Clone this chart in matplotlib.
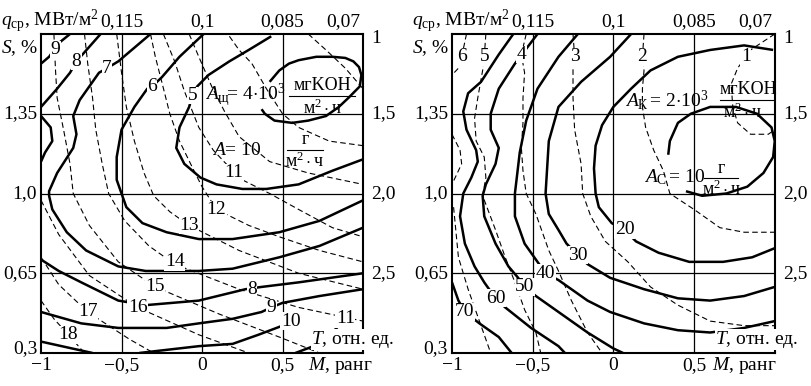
import numpy as np
import matplotlib.pyplot as plt

plt.rcParams['font.family'] = ['Liberation Serif', 'DejaVu Serif']
plt.rcParams['mathtext.fontset'] = 'custom'
plt.rcParams['mathtext.rm'] = 'Liberation Serif'
plt.rcParams['mathtext.it'] = 'Liberation Serif:italic'

# ========================
# DATA (M, S)
# ========================
# left panel, solid lines (alkali corrosion)
l_sol_9a = [(-1.0, 1.57), (-0.95, 1.60), (-0.89, 1.66), (-0.82, 1.70)]
l_sol_8a = [(-0.63, 1.70), (-0.73, 1.62), (-0.78, 1.58), (-0.82, 1.53), (-0.90, 1.46), (-1.0, 1.38)]
l_sol_bump = [(-1.0, 1.34), (-0.94, 1.29), (-0.93, 1.23), (-0.975, 1.18), (-1.0, 1.14)]
l_sol_7 = [(-0.32, 1.70), (-0.52, 1.58), (-0.59, 1.55), (-0.64, 1.53), (-0.76, 1.41), (-0.80, 1.34),
           (-0.78, 1.26), (-0.80, 1.20), (-0.90, 1.09), (-0.95, 1.01), (-0.95, 0.99), (-0.93, 0.93),
           (-0.84, 0.83), (-0.72, 0.75), (-0.52, 0.68), (-0.35, 0.66), (-0.02, 0.66), (0.19, 0.67),
           (0.48, 0.72), (0.73, 0.77), (1.0, 0.85)]
l_sol_6 = [(0.01, 1.70), (-0.14, 1.60), (-0.25, 1.51), (-0.31, 1.47), (-0.34, 1.46), (-0.42, 1.38),
           (-0.50, 1.28), (-0.53, 1.16), (-0.53, 1.06), (-0.50, 1.0), (-0.47, 0.94), (-0.37, 0.87),
           (-0.22, 0.83), (-0.02, 0.80), (0.19, 0.80), (0.48, 0.83), (0.73, 0.88), (1.0, 0.97)]
l_sol_5 = [(0.43, 1.69), (0.29, 1.63), (0.17, 1.58), (0.04, 1.52), (-0.03, 1.47), (-0.06, 1.43),
           (-0.08, 1.38), (-0.14, 1.29), (-0.16, 1.20), (-0.11, 1.13), (-0.01, 1.07), (0.09, 1.04),
           (0.25, 1.02), (0.40, 1.02), (0.60, 1.04), (0.81, 1.10), (1.0, 1.15)]
l_sol_4 = [(0.42, 1.49), (0.48, 1.54), (0.54, 1.57), (0.60, 1.585), (0.71, 1.60), (0.81, 1.60),
           (0.89, 1.595), (0.94, 1.58), (0.975, 1.555), (0.99, 1.52), (0.98, 1.47), (0.91, 1.42),
           (0.85, 1.38), (0.77, 1.34), (0.66, 1.32), (0.56, 1.31), (0.45, 1.32), (0.39, 1.35),
           (0.37, 1.37)]
l_sol_8b = [(-1.0, 0.71), (-0.89, 0.66), (-0.75, 0.61), (-0.52, 0.53), (-0.35, 0.51), (-0.02, 0.53),
            (0.27, 0.58), (0.37, 0.59), (0.60, 0.61), (1.0, 0.65)]
l_sol_9b = [(-1.0, 0.48), (-0.75, 0.43), (-0.52, 0.41), (-0.22, 0.41), (-0.02, 0.43), (0.19, 0.45),
            (0.37, 0.48), (0.43, 0.50), (0.50, 0.52), (0.73, 0.55), (1.0, 0.58)]
l_sol_10a = [(-1.0, 0.35), (-0.68, 0.30)]
l_sol_10b = [(-0.39, 0.30), (-0.02, 0.33), (0.19, 0.34), (0.35, 0.38), (0.50, 0.42), (0.55, 0.44)]
l_sol_11b = [(0.58, 0.30), (0.73, 0.34), (0.81, 0.39), (0.89, 0.45)]

# left panel, dashed lines (mass loss)
l_dash_1 = [(0.66, 1.70), (0.77, 1.63), (0.89, 1.55), (1.0, 1.46)]
l_dash_2 = [(0.17, 1.69), (0.23, 1.63), (0.31, 1.57), (0.40, 1.46), (0.50, 1.35), (0.60, 1.29),
            (0.79, 1.23), (1.0, 1.21)]
l_dash_3 = [(-0.08, 1.70), (-0.02, 1.60), (0.06, 1.47), (0.14, 1.36), (0.23, 1.25), (0.42, 1.14),
            (0.66, 1.09), (1.0, 1.04)]
l_dash_4 = [(-0.24, 1.70), (-0.17, 1.58), (-0.11, 1.45), (-0.02, 1.29), (0.07, 1.19), (0.15, 1.13),
            (0.20, 1.10), (0.25, 1.06), (0.42, 1.0), (0.60, 0.93), (0.81, 0.85), (1.0, 0.81)]
l_dash_5 = [(-0.32, 1.70), (-0.29, 1.60), (-0.25, 1.49), (-0.20, 1.35), (-0.14, 1.23), (-0.05, 1.10),
            (0.0, 1.03), (0.09, 0.93), (0.29, 0.86), (0.48, 0.81), (0.73, 0.75), (1.0, 0.70)]
l_dash_6 = [(-0.53, 1.70), (-0.50, 1.53), (-0.47, 1.38), (-0.42, 1.23), (-0.36, 1.09), (-0.30, 0.99),
            (-0.20, 0.92), (-0.08, 0.86), (0.23, 0.75), (0.60, 0.65), (1.0, 0.58)]
l_dash_7 = [(-0.73, 1.70), (-0.71, 1.57), (-0.68, 1.42), (-0.66, 1.28), (-0.62, 1.13), (-0.58, 1.0),
            (-0.48, 0.88), (-0.33, 0.77), (-0.17, 0.69), (0.23, 0.58), (0.60, 0.50), (1.0, 0.44)]
l_dash_8 = [(-0.92, 1.70), (-0.91, 1.54), (-0.90, 1.42), (-0.86, 1.28), (-0.82, 1.13), (-0.80, 1.0),
            (-0.70, 0.86), (-0.52, 0.70), (-0.29, 0.59), (0.11, 0.47), (0.48, 0.37), (0.73, 0.30)]
l_dash_9 = [(-1.0, 0.97), (-0.89, 0.82), (-0.70, 0.64), (-0.40, 0.50), (-0.02, 0.38), (0.29, 0.30)]
l_dash_10 = [(-1.0, 0.72), (-0.89, 0.60), (-0.71, 0.48), (-0.45, 0.36), (-0.30, 0.30)]
l_dash_11 = [(-1.0, 0.53), (-0.92, 0.45), (-0.83, 0.38), (-0.73, 0.30)]

l_labels = ["9", "8", "7", "6", "5", "11", "12", "13", "14", "15", "16", "17", "18", "8", "9", "10", "11"]
l_label_pos = [(-0.91, 1.63), (-0.78, 1.58), (-0.59, 1.55), (-0.31, 1.47), (-0.06, 1.43),
               (0.20, 1.09), (0.09, 0.93), (-0.08, 0.86), (-0.17, 0.70), (-0.29, 0.59),
               (-0.40, 0.50), (-0.71, 0.48), (-0.83, 0.38), (0.31, 0.58), (0.43, 0.50),
               (0.55, 0.44), (0.89, 0.45)]

# right panel, solid lines (steel loss)
r_sol_10 = [(0.34, 1.17), (0.35, 1.23), (0.40, 1.31), (0.48, 1.35), (0.60, 1.38), (0.76, 1.38),
            (0.89, 1.35), (0.98, 1.29), (1.0, 1.23), (0.99, 1.16), (0.93, 1.09), (0.83, 1.03),
            (0.70, 1.0), (0.55, 0.99), (0.45, 1.01)]
r_sol_20 = [(0.99, 1.63), (0.81, 1.65), (0.60, 1.63), (0.40, 1.60), (0.23, 1.54), (0.11, 1.46),
            (0.0, 1.38), (-0.07, 1.30), (-0.11, 1.21), (-0.12, 1.11), (-0.11, 1.0), (-0.09, 0.94),
            (-0.01, 0.87), (0.07, 0.84), (0.14, 0.79), (0.28, 0.74), (0.47, 0.70), (0.68, 0.70),
            (0.86, 0.72), (1.0, 0.76)]
r_sol_30 = [(0.11, 1.70), (-0.02, 1.60), (-0.20, 1.49), (-0.34, 1.38), (-0.40, 1.23), (-0.42, 1.0),
            (-0.40, 0.91), (-0.34, 0.84), (-0.29, 0.78), (-0.22, 0.73), (-0.16, 0.69), (-0.02, 0.63),
            (0.19, 0.58), (0.40, 0.54), (0.60, 0.53), (0.81, 0.55), (1.0, 0.59)]
r_sol_40 = [(-0.22, 1.70), (-0.34, 1.60), (-0.47, 1.46), (-0.54, 1.32), (-0.58, 1.18), (-0.61, 1.0),
            (-0.61, 0.90), (-0.55, 0.78), (-0.48, 0.71), (-0.42, 0.65), (-0.34, 0.62), (-0.16, 0.53),
            (-0.02, 0.48), (0.19, 0.43), (0.40, 0.40), (0.60, 0.39), (0.81, 0.41), (1.0, 0.44)]
r_sol_50 = [(-0.47, 1.70), (-0.61, 1.57), (-0.71, 1.46), (-0.76, 1.35), (-0.76, 1.28), (-0.71, 1.20),
            (-0.73, 1.13), (-0.79, 1.04), (-0.81, 0.99), (-0.80, 0.90), (-0.73, 0.78), (-0.65, 0.68),
            (-0.59, 0.63), (-0.55, 0.59), (-0.48, 0.55), (-0.34, 0.48), (-0.16, 0.39), (0.0, 0.32),
            (0.06, 0.30)]
r_sol_60 = [(-0.62, 1.70), (-0.71, 1.61), (-0.82, 1.49), (-0.90, 1.44), (-0.93, 1.36), (-0.91, 1.28),
            (-0.85, 1.19), (-0.84, 1.14), (-0.88, 1.07), (-0.93, 1.0), (-0.95, 0.90), (-0.92, 0.78),
            (-0.86, 0.68), (-0.80, 0.61), (-0.73, 0.54), (-0.67, 0.50), (-0.51, 0.41), (-0.34, 0.33),
            (-0.30, 0.30)]
r_sol_70 = [(-1.0, 0.61), (-0.96, 0.53), (-0.92, 0.48), (-0.83, 0.43), (-0.71, 0.37), (-0.63, 0.30)]

# right panel, dashed lines (alkali)
r_dash_1 = [(1.0, 1.70), (0.85, 1.63), (0.82, 1.60), (0.77, 1.55), (0.73, 1.48), (0.74, 1.38),
            (0.77, 1.31), (0.85, 1.26), (0.96, 1.26), (1.0, 1.28)]
r_dash_2 = [(0.19, 1.70), (0.18, 1.60), (0.19, 1.54), (0.18, 1.46), (0.18, 1.38), (0.20, 1.29),
            (0.25, 1.19), (0.31, 1.10), (0.35, 1.0), (0.50, 0.93), (0.66, 0.85), (0.81, 0.83),
            (1.0, 0.83)]
r_dash_3 = [(-0.25, 1.70), (-0.24, 1.60), (-0.25, 1.57), (-0.25, 1.42), (-0.24, 1.28), (-0.20, 1.13),
            (-0.19, 1.0), (-0.14, 0.90), (-0.05, 0.79), (0.09, 0.70), (0.23, 0.59), (0.40, 0.51),
            (0.60, 0.44), (0.81, 0.42), (1.0, 0.42)]
r_dash_4 = [(-0.54, 1.70), (-0.57, 1.61), (-0.55, 1.53), (-0.56, 1.42), (-0.56, 1.31), (-0.57, 1.20),
            (-0.56, 1.10), (-0.54, 1.0), (-0.48, 0.91), (-0.40, 0.75), (-0.34, 0.66), (-0.26, 0.53),
            (-0.16, 0.39), (-0.07, 0.30)]
r_dash_5 = [(-0.79, 1.70), (-0.80, 1.60), (-0.81, 1.54), (-0.84, 1.42), (-0.86, 1.33), (-0.85, 1.23),
            (-0.80, 1.16), (-0.79, 1.07), (-0.81, 0.99), (-0.73, 0.84), (-0.67, 0.72), (-0.61, 0.61),
            (-0.55, 0.49), (-0.48, 0.39), (-0.45, 0.30)]
r_dash_6 = [(-0.91, 1.70), (-0.94, 1.60), (-0.96, 1.55), (-1.0, 1.52)]
r_dash_7 = [(-1.0, 1.26), (-0.95, 1.19), (-0.94, 1.13), (-0.98, 1.07), (-1.0, 1.04)]
r_dash_8 = [(-0.99, 0.94), (-0.96, 0.72), (-0.90, 0.58), (-0.84, 0.46), (-0.76, 0.30)]

r_labels = ["6", "5", "4", "3", "2", "1", "20", "30", "40", "50", "60", "70"]
r_label_pos = [(-0.94, 1.60), (-0.80, 1.60), (-0.57, 1.61), (-0.24, 1.60), (0.18, 1.60), (0.82, 1.60),
               (0.07, 0.84), (-0.22, 0.73), (-0.42, 0.65), (-0.55, 0.59), (-0.73, 0.54), (-0.92, 0.48)]

# axes scales
m_ticks = [-1, -0.5, 0, 0.5]
m_ticklabels = ["\u22121", "\u22120,5", "0", "0,5"]
s_ticks = [1.35, 1.0, 0.65, 0.3]
s_ticklabels = ["1,35", "1,0", "0,65", "0,3"]
t_ticks = [1.7, 1.35, 1.0, 0.65]
t_ticklabels = ["1", "1,5", "2,0", "2,5"]
q_ticks = [-0.5, 0, 0.5, 0.88]
q_ticklabels = ["0,115", "0,1", "0,085", "0,07"]

# ========================
# PLOT
# ========================
fig = plt.figure(figsize=(8.11, 3.86), dpi=100)
ax_l = fig.add_axes([0.0506, 0.0855, 0.397, 0.8264])
ax_r = fig.add_axes([0.5573, 0.0855, 0.398, 0.8264])

FS = 14
SOLID = dict(color="black", lw=1.8, solid_joinstyle="round", solid_capstyle="butt", zorder=3)
DASH = dict(color="black", lw=0.8, linestyle=(0, (5, 3)), zorder=2)
WHITE = dict(facecolor="white", edgecolor="none", pad=0.3)


def draw(ax, pts, style):
    a = np.array(pts)
    ax.plot(a[:, 0], a[:, 1], **style)


def frame(ax):
    ax.set_xlim(-1, 1)
    ax.set_ylim(0.3, 1.7)
    ax.set_xticks([])
    ax.set_yticks([])
    for sp in ax.spines.values():
        sp.set_linewidth(1.5)
        sp.set_zorder(6)
    for x in [-0.5, 0, 0.5]:
        ax.axvline(x, color="black", lw=0.9, zorder=1)
    for y in [1.35, 1.0, 0.65]:
        ax.axhline(y, color="black", lw=0.9, zorder=1)

    tr = ax.get_xaxis_transform()
    for x, t in zip(m_ticks, m_ticklabels):
        ax.text(x, -0.04, t, transform=tr, ha="center", va="center", fontsize=FS)
    for x, t in zip(q_ticks, q_ticklabels):
        ax.text(x, 1.038, t, transform=tr, ha="center", va="center", fontsize=FS)
    ty = ax.get_yaxis_transform()
    for y, t in zip(s_ticks, s_ticklabels):
        ax.text(-0.012, y + (0.02 if y < 0.35 else 0), t, transform=ty, ha="right", va="center", fontsize=FS)
    for y, t in zip(t_ticks, t_ticklabels):
        ax.text(1.025, y - (0.02 if y > 1.65 else 0), t, transform=ty, ha="left", va="center", fontsize=FS)
    ax.text(-0.125, 0.955, "$S$, %", transform=ax.transAxes, ha="left", va="center", fontsize=FS)
    ax.text(-0.125, 1.038, r"$q_{\mathrm{ср}}$, МВт/м$^2$", transform=ax.transAxes,
            ha="left", va="center", fontsize=FS)


def labels(ax, texts, pos):
    for t, (x, y) in zip(texts, pos):
        ax.text(x, y, t, ha="center", va="center", fontsize=FS, zorder=5, bbox=WHITE)


def axis_names(ax, t_x, m_x):
    ax.text(t_x, 0.36, "$T$, отн. ед.", ha="left", va="center", fontsize=FS, zorder=7,
            clip_on=False, bbox=dict(facecolor="white", edgecolor="none", pad=0.2))
    ax.text(m_x, -0.04, "$M$, ранг", transform=ax.get_xaxis_transform(),
            ha="left", va="center", fontsize=FS)


# left panel
frame(ax_l)
for c in [l_sol_9a, l_sol_8a, l_sol_bump, l_sol_7, l_sol_6, l_sol_5, l_sol_4,
          l_sol_8b, l_sol_9b, l_sol_10a, l_sol_10b, l_sol_11b]:
    draw(ax_l, c, SOLID)
for c in [l_dash_1, l_dash_2, l_dash_3, l_dash_4, l_dash_5, l_dash_6, l_dash_7,
          l_dash_8, l_dash_9, l_dash_10, l_dash_11]:
    draw(ax_l, c, DASH)
labels(ax_l, l_labels, l_label_pos)
ax_l.text(0.02, 1.43, r"$A_{\mathrm{щ}}\!$= 4$\cdot$10$^3$", ha="left", va="center", fontsize=FS, zorder=5)
ax_l.text(0.75, 1.475, "мгKOH", ha="center", va="center", fontsize=13, zorder=5)
ax_l.text(0.75, 1.375, r"м$^2\cdot$ч", ha="center", va="center", fontsize=13, zorder=5)
ax_l.plot([0.54, 0.95], [1.43, 1.43], color="black", lw=0.8, zorder=5)
ax_l.text(0.06, 1.19, "$A$= 10", ha="left", va="center", fontsize=FS, zorder=5)
ax_l.text(0.64, 1.235, "г", ha="center", va="center", fontsize=13, zorder=5)
ax_l.text(0.64, 1.14, r"м$^2\cdot$ч", ha="center", va="center", fontsize=13, zorder=5)
ax_l.plot([0.53, 0.75], [1.19, 1.19], color="black", lw=0.8, zorder=5)
axis_names(ax_l, 0.68, 0.66)

# right panel
frame(ax_r)
for c in [r_sol_10, r_sol_20, r_sol_30, r_sol_40, r_sol_50, r_sol_60, r_sol_70]:
    draw(ax_r, c, SOLID)
for c in [r_dash_1, r_dash_2, r_dash_3, r_dash_4, r_dash_5, r_dash_6, r_dash_7, r_dash_8]:
    draw(ax_r, c, DASH)
labels(ax_r, r_labels, r_label_pos)
ax_r.text(0.07, 1.41, r"$A_{\mathrm{К}}\,$= 2$\cdot$10$^3$", ha="left", va="center", fontsize=FS, zorder=5)
ax_r.text(0.84, 1.455, "мгKOH", ha="center", va="center", fontsize=13, zorder=5)
ax_r.text(0.80, 1.355, r"м$^2\cdot$ч", ha="center", va="center", fontsize=13, zorder=5)
ax_r.plot([0.66, 1.0], [1.41, 1.41], color="black", lw=0.8, zorder=5)
ax_r.text(0.19, 1.07, r"$A_{\mathrm{С}}\,$= 10", ha="left", va="center", fontsize=FS, zorder=5)
ax_r.text(0.67, 1.11, "г", ha="center", va="center", fontsize=13, zorder=5)
ax_r.text(0.67, 1.02, r"м$^2\cdot$ч", ha="center", va="center", fontsize=13, zorder=5)
ax_r.plot([0.56, 0.77], [1.07, 1.07], color="black", lw=0.8, zorder=5)
axis_names(ax_r, 0.63, 0.61)

fig.savefig("out.png", dpi=100)
